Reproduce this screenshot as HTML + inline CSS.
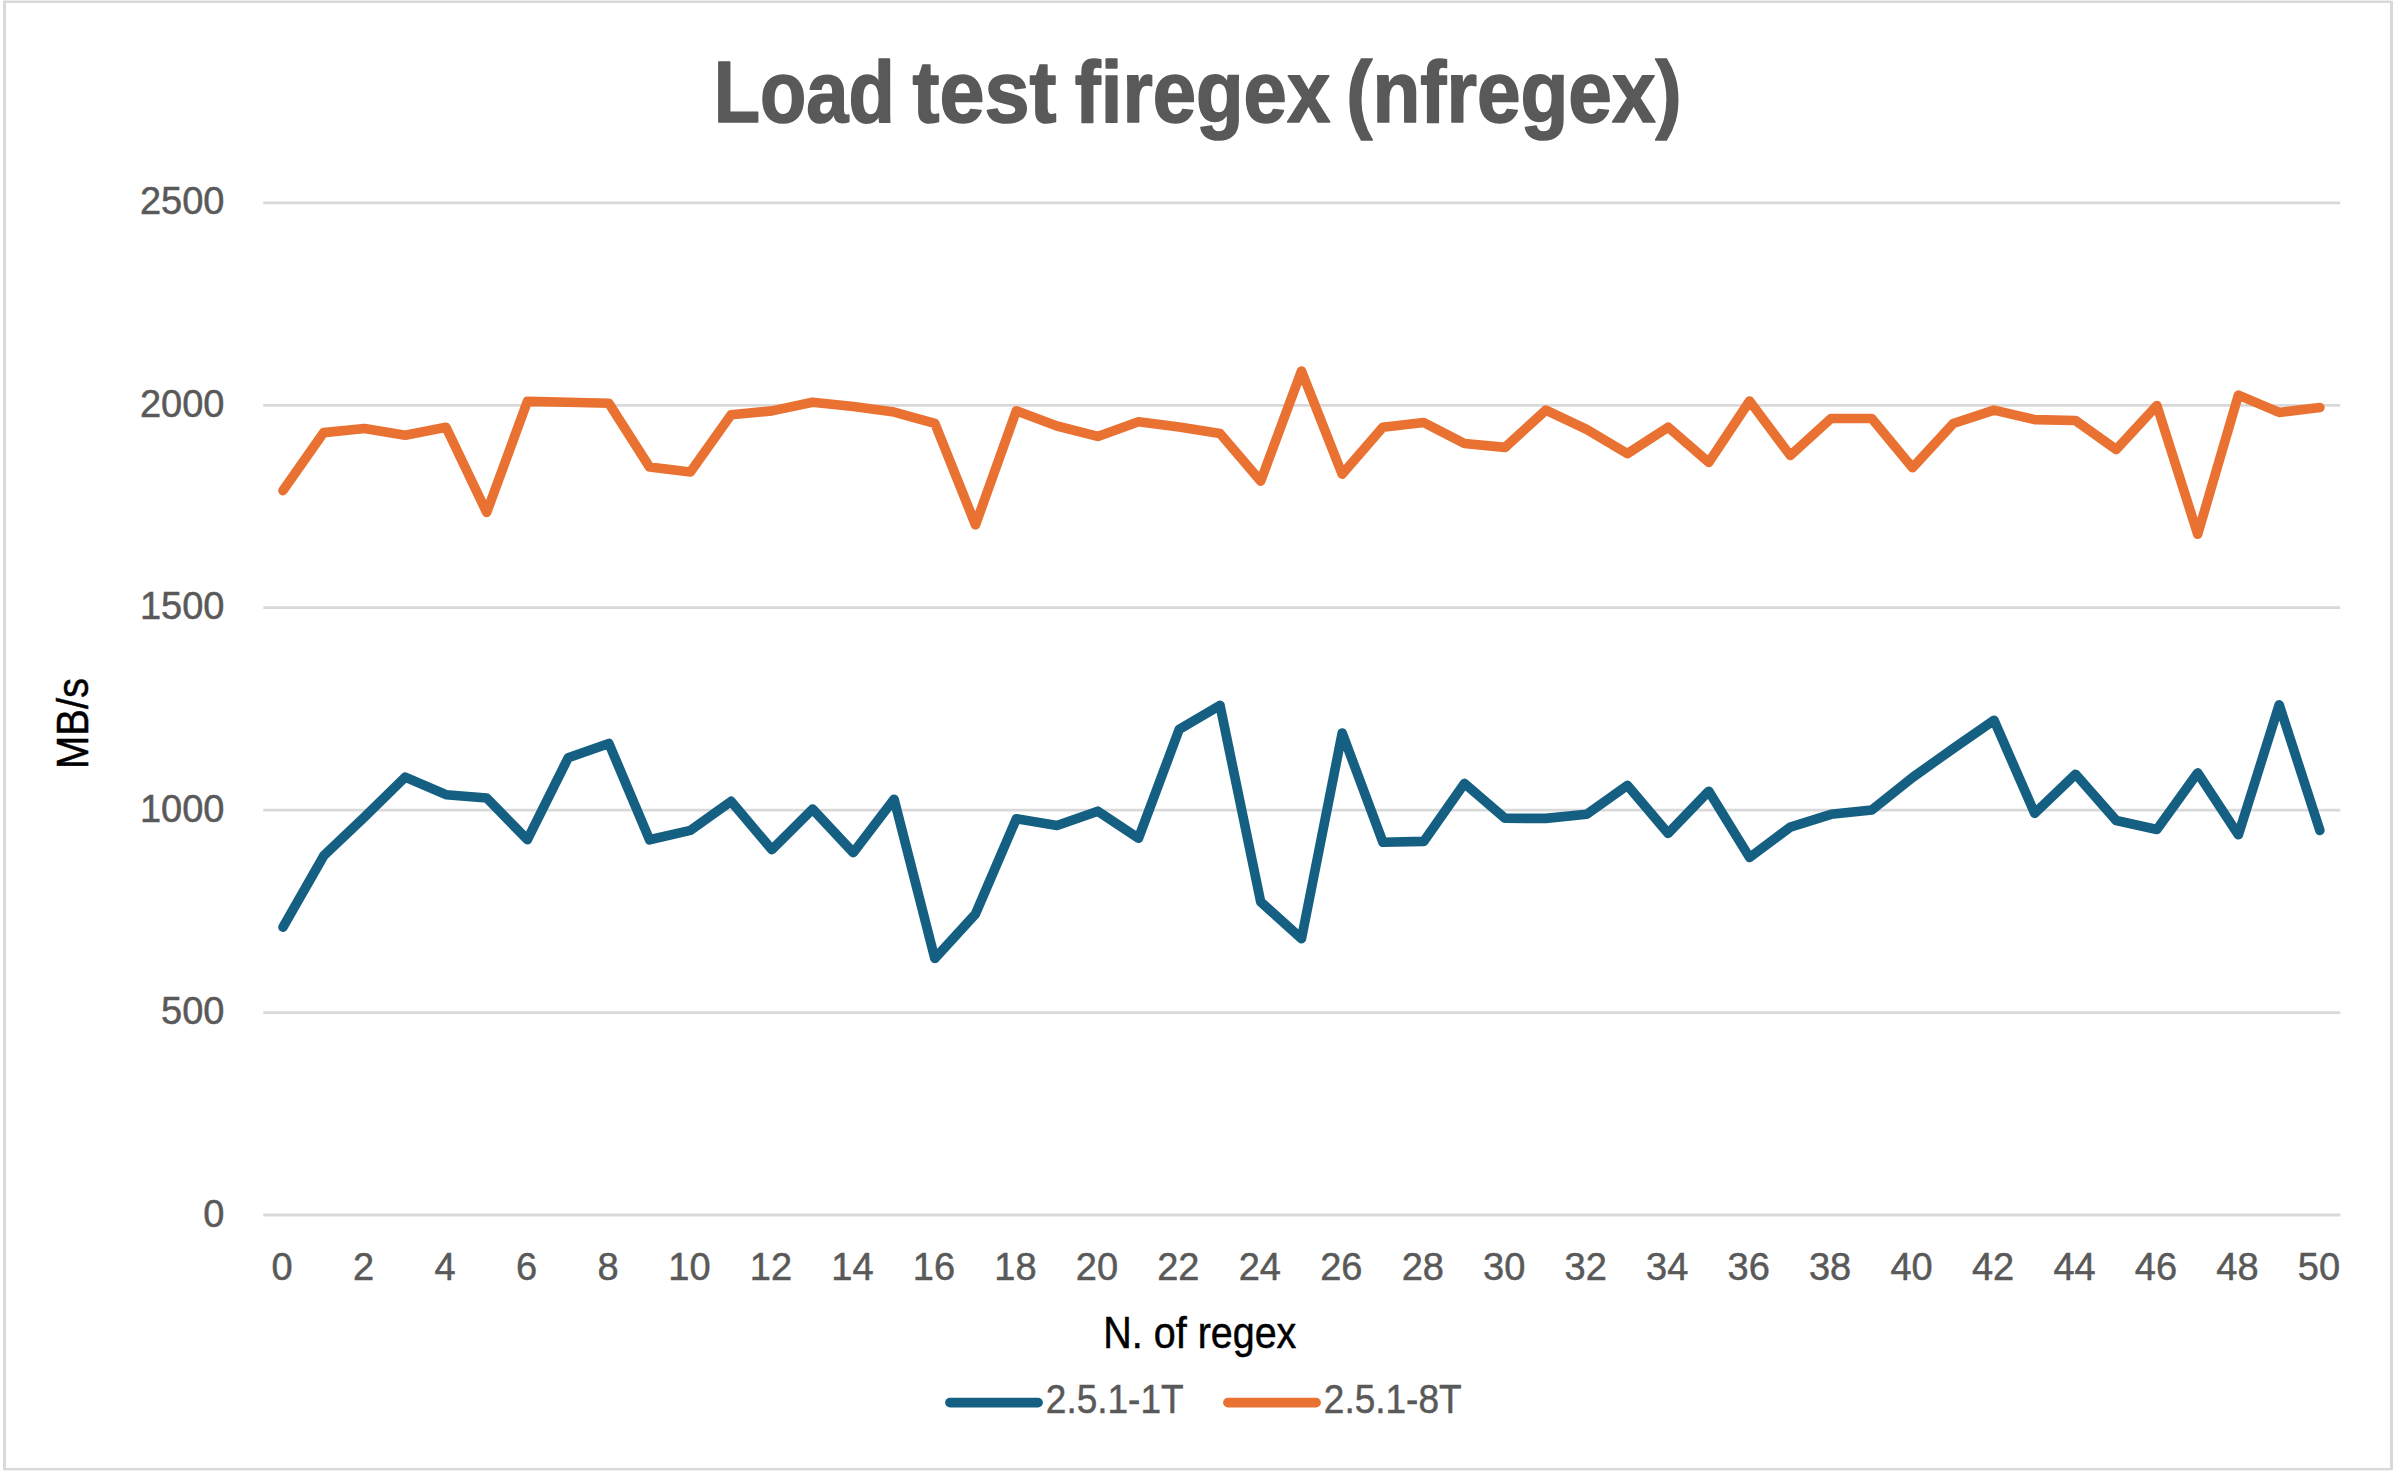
<!DOCTYPE html>
<html lang="en">
<head>
<meta charset="utf-8">
<title>Load test firegex (nfregex)</title>
<style>
html,body{margin:0;padding:0;background:#fff;}
body{width:2401px;height:1475px;overflow:hidden;}
svg{display:block;}
text{font-family:'Liberation Sans', Arial, Helvetica, sans-serif;}
</style>
</head>
<body>
<svg width="2401" height="1475" viewBox="0 0 2401 1475">
<rect x="0" y="0" width="2401" height="1475" fill="#ffffff"/>
<rect x="3" y="0" width="2388.5" height="1" fill="#ececec"/>
<rect x="4" y="1470" width="2388" height="1" fill="#f2f2f2"/>
<rect x="3" y="1" width="2390" height="2" fill="#d9d9d9"/>
<rect x="3" y="1468" width="2390" height="2" fill="#d9d9d9"/>
<rect x="3" y="1" width="3" height="1469" fill="#d9d9d9"/>
<rect x="2390" y="1" width="3" height="1469" fill="#d9d9d9"/>
<text y="121.5" font-size="86.4" font-weight="bold" fill="#595959" stroke="#595959" stroke-width="1.6" stroke-linejoin="round"><tspan x="713.82" textLength="180.88" lengthAdjust="spacingAndGlyphs">Load</tspan> <tspan x="912.60" textLength="144.00" lengthAdjust="spacingAndGlyphs">test</tspan> <tspan x="1074.80" textLength="255.48" lengthAdjust="spacingAndGlyphs">firegex</tspan> <tspan x="1346.37" textLength="335.20" lengthAdjust="spacingAndGlyphs">(nfregex)</tspan></text>
<g stroke="#d9d9d9" stroke-width="2.8" fill="none">
<line x1="263.3" y1="202.9" x2="2340.3" y2="202.9"/>
<line x1="263.3" y1="405.3" x2="2340.3" y2="405.3"/>
<line x1="263.3" y1="607.7" x2="2340.3" y2="607.7"/>
<line x1="263.3" y1="810.2" x2="2340.3" y2="810.2"/>
<line x1="263.3" y1="1012.6" x2="2340.3" y2="1012.6"/>
<line x1="263.3" y1="1215.0" x2="2340.3" y2="1215.0"/>
</g>
<g font-size="38" fill="#595959" stroke="#595959" stroke-width="0.5" text-anchor="end">
<text x="224.5" y="214.4">2500</text>
<text x="224.5" y="416.8">2000</text>
<text x="224.5" y="619.2">1500</text>
<text x="224.5" y="821.7">1000</text>
<text x="224.5" y="1024.1">500</text>
<text x="224.5" y="1226.5">0</text>
</g>
<g font-size="38" fill="#595959" stroke="#595959" stroke-width="0.5" text-anchor="middle">
<text x="282.1" y="1280">0</text>
<text x="363.6" y="1280">2</text>
<text x="445.1" y="1280">4</text>
<text x="526.5" y="1280">6</text>
<text x="608.0" y="1280">8</text>
<text x="689.5" y="1280">10</text>
<text x="771.0" y="1280">12</text>
<text x="852.4" y="1280">14</text>
<text x="933.9" y="1280">16</text>
<text x="1015.4" y="1280">18</text>
<text x="1096.9" y="1280">20</text>
<text x="1178.3" y="1280">22</text>
<text x="1259.8" y="1280">24</text>
<text x="1341.3" y="1280">26</text>
<text x="1422.8" y="1280">28</text>
<text x="1504.2" y="1280">30</text>
<text x="1585.7" y="1280">32</text>
<text x="1667.2" y="1280">34</text>
<text x="1748.7" y="1280">36</text>
<text x="1830.1" y="1280">38</text>
<text x="1911.6" y="1280">40</text>
<text x="1993.1" y="1280">42</text>
<text x="2074.6" y="1280">44</text>
<text x="2156.0" y="1280">46</text>
<text x="2237.5" y="1280">48</text>
<text x="2319.0" y="1280">50</text>
</g>
<polyline points="283.0,927.2 323.7,855.8 364.5,817.1 405.2,777.1 446.0,794.7 486.7,798.0 527.4,839.7 568.2,757.8 608.9,743.5 649.6,839.8 690.4,830.4 731.1,801.3 771.9,849.7 812.6,809.1 853.3,852.6 894.1,799.2 934.8,958.4 975.5,913.9 1016.3,818.8 1057.0,825.5 1097.8,811.2 1138.5,838.3 1179.2,729.4 1220.0,705.3 1260.7,901.9 1301.5,938.6 1342.2,733.0 1382.9,842.2 1423.7,841.4 1464.4,783.4 1505.1,818.3 1545.9,818.4 1586.6,814.3 1627.4,785.4 1668.1,833.4 1708.8,791.2 1749.6,857.5 1790.3,827.1 1831.0,814.3 1871.8,810.0 1912.5,777.5 1953.3,748.5 1994.0,720.2 2034.7,813.4 2075.5,774.2 2116.2,820.5 2156.9,829.5 2197.7,772.9 2238.4,834.8 2279.2,704.8 2319.9,830.4" fill="none" stroke="#156082" stroke-width="9.6" stroke-linejoin="round" stroke-linecap="round"/>
<polyline points="283.0,490.6 323.7,432.6 364.5,428.5 405.2,435.3 446.0,427.3 486.7,512.4 527.4,401.4 568.2,402.3 608.9,403.3 649.6,467.1 690.4,472.0 731.1,414.8 771.9,410.9 812.6,402.3 853.3,406.5 894.1,412.1 934.8,423.3 975.5,524.9 1016.3,410.8 1057.0,426.0 1097.8,436.4 1138.5,421.7 1179.2,426.9 1220.0,433.5 1260.7,481.1 1301.5,371.0 1342.2,474.2 1382.9,427.2 1423.7,422.6 1464.4,443.5 1505.1,447.4 1545.9,410.1 1586.6,429.4 1627.4,453.6 1668.1,427.2 1708.8,462.4 1749.6,401.0 1790.3,455.5 1831.0,418.5 1871.8,418.5 1912.5,467.8 1953.3,423.5 1994.0,410.1 2034.7,419.6 2075.5,420.5 2116.2,449.5 2156.9,405.6 2197.7,534.2 2238.4,395.1 2279.2,412.4 2319.9,407.5" fill="none" stroke="#e97132" stroke-width="9.6" stroke-linejoin="round" stroke-linecap="round"/>
<text x="88" y="723.5" transform="rotate(-90 88 723.5)" text-anchor="middle" font-size="44" fill="#000000" stroke="#000000" stroke-width="0.5" textLength="91" lengthAdjust="spacingAndGlyphs">MB/s</text>
<text x="1199.85" y="1348" text-anchor="middle" font-size="44" fill="#000000" stroke="#000000" stroke-width="0.5" textLength="193" lengthAdjust="spacingAndGlyphs">N. of regex</text>
<line x1="950" y1="1402.6" x2="1038" y2="1402.6" stroke="#156082" stroke-width="9.8" stroke-linecap="round"/>
<text x="1045.85" y="1413" font-size="40" fill="#595959" stroke="#595959" stroke-width="0.5" textLength="137.7" lengthAdjust="spacingAndGlyphs">2.5.1-1T</text>
<line x1="1228" y1="1402.6" x2="1316" y2="1402.6" stroke="#e97132" stroke-width="9.8" stroke-linecap="round"/>
<text x="1323.85" y="1413" font-size="40" fill="#595959" stroke="#595959" stroke-width="0.5" textLength="137.7" lengthAdjust="spacingAndGlyphs">2.5.1-8T</text>
</svg>
</body>
</html>
